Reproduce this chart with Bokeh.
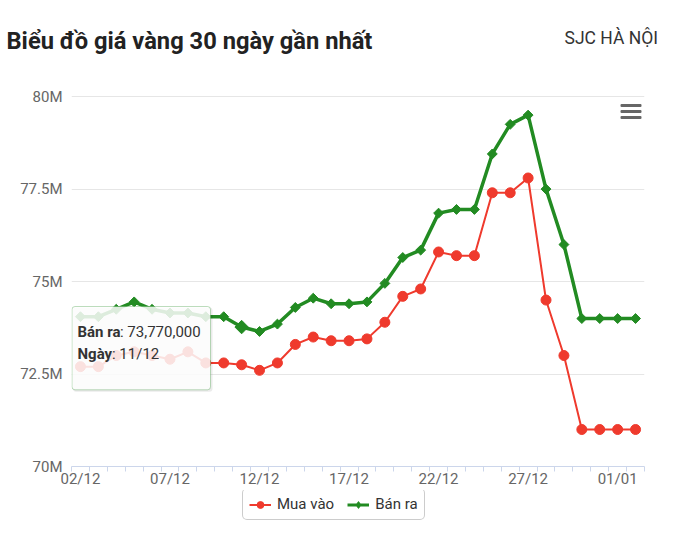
import math
from bokeh.plotting import figure
from bokeh.layouts import column
from bokeh.models import (FixedTicker, Label, BoxAnnotation, Legend, LegendItem, Range1d)
from bokeh.embed import file_html
from bokeh.resources import INLINE

# ---------------- data ----------------
dates = ["02/12", "03/12", "04/12", "05/12", "06/12", "07/12", "08/12", "09/12",
         "10/12", "11/12", "12/12", "13/12", "14/12", "15/12", "16/12", "17/12",
         "18/12", "19/12", "20/12", "21/12", "22/12", "23/12", "24/12", "25/12",
         "26/12", "27/12", "28/12", "29/12", "30/12", "31/12", "01/01", "02/01"]

mua_vao = [72_700_000, 72_700_000, 73_000_000, 73_100_000, 73_000_000, 72_900_000,
           73_100_000, 72_800_000, 72_800_000, 72_750_000, 72_600_000, 72_800_000,
           73_300_000, 73_500_000, 73_400_000, 73_400_000, 73_450_000, 73_900_000,
           74_600_000, 74_800_000, 75_800_000, 75_700_000, 75_700_000, 77_400_000,
           77_400_000, 77_800_000, 74_500_000, 73_000_000, 71_000_000, 71_000_000,
           71_000_000, 71_000_000]

ban_ra = [74_050_000, 74_050_000, 74_250_000, 74_450_000, 74_250_000, 74_150_000,
          74_150_000, 74_050_000, 74_050_000, 73_770_000, 73_650_000, 73_850_000,
          74_300_000, 74_550_000, 74_400_000, 74_400_000, 74_450_000, 74_950_000,
          75_650_000, 75_850_000, 76_850_000, 76_950_000, 76_950_000, 78_450_000,
          79_250_000, 79_500_000, 77_500_000, 76_000_000, 74_000_000, 74_000_000,
          74_000_000, 74_000_000]

y_ticks = [70_000_000, 72_500_000, 75_000_000, 77_500_000, 80_000_000]
y_tick_labels = ["70M", "72.5M", "75M", "77.5M", "80M"]
x_label_step = 5
series_names = ["Mua vào", "Bán ra"]
title_text = "Biểu đồ giá vàng 30 ngày gần nhất"
right_text = "SJC HÀ NỘI"
tooltip_date = "11/12"

RED = "#ef3a2d"
GREEN = "#228b22"
FONT = "Roboto"
FS = "15px"

W = 661
TOP_H, LEG_H = 60, 31
MAIN_H = 521 - TOP_H - LEG_H
F_L, F_T, F_R, F_B = 71, 95, 644, 466   # plot frame in page pixels
Y_PAD = 30_000                          # headroom so the top grid line is drawn

n = len(dates)
xs = list(range(n))


def bare_fig(h):
    f = figure(width=W, height=h, output_backend="svg", toolbar_location=None,
               x_range=Range1d(0, W), y_range=Range1d(0, h),
               x_axis_location=None, y_axis_location=None, min_border=0)
    f.outline_line_color = None
    f.grid.visible = False
    f.background_fill_color = "white"
    f.border_fill_color = "white"
    try:
        f.frame_align = False
    except Exception:
        pass
    return f


# ---------------- header ----------------
top = bare_fig(TOP_H)
top.add_layout(Label(x=6, y=TOP_H - 40.5, text=title_text, text_font=FONT,
                     text_font_style="bold", text_font_size="23.7px",
                     text_color="#222222", text_baseline="alphabetic"))
top.add_layout(Label(x=657.5, y=TOP_H - 37.3, text=right_text, text_font=FONT,
                     text_font_size="17.5px", text_color="#333333",
                     text_baseline="alphabetic", text_align="right"))

# ---------------- main chart ----------------
p = figure(width=W, height=MAIN_H, output_backend="svg", toolbar_location=None,
           x_range=Range1d(-0.5, n - 0.5),
           y_range=Range1d(y_ticks[0], y_ticks[-1] + Y_PAD),
           min_border_left=F_L, min_border_right=W - F_R, min_border_top=F_T - TOP_H,
           min_border_bottom=TOP_H + MAIN_H - F_B)
p.outline_line_color = None
p.background_fill_color = "white"
p.border_fill_color = "white"

p.xgrid.grid_line_color = None
p.ygrid.grid_line_color = "#e6e6e6"
p.ygrid.grid_line_width = 1

p.yaxis.ticker = FixedTicker(ticks=y_ticks, minor_ticks=[])
p.yaxis.major_label_overrides = {t: l for t, l in zip(y_ticks, y_tick_labels)}
p.yaxis.axis_line_color = None
p.yaxis.major_tick_line_color = None
p.yaxis.minor_tick_line_color = None
p.yaxis.major_tick_out = 0
p.yaxis.major_tick_in = 0
p.yaxis.major_label_standoff = 9
p.yaxis.major_label_text_font = FONT
p.yaxis.major_label_text_font_size = FS
p.yaxis.major_label_text_color = "#666666"

major_x = list(range(0, n, x_label_step))
p.xaxis.ticker = FixedTicker(ticks=major_x, minor_ticks=[i - 0.5 for i in range(n + 1)])
p.xaxis.major_label_overrides = {i: dates[i] for i in major_x}
p.xaxis.axis_line_color = "#ccd6eb"
p.xaxis.major_tick_line_color = None
p.xaxis.major_tick_out = 0
p.xaxis.major_tick_in = 0
p.xaxis.minor_tick_line_color = "#ccd6eb"
p.xaxis.minor_tick_out = 5
p.xaxis.minor_tick_in = 0
p.xaxis.major_label_standoff = -2
p.xaxis.major_label_text_font = FONT
p.xaxis.major_label_text_font_size = FS
p.xaxis.major_label_text_color = "#666666"

p.line(xs, mua_vao, line_color=RED, line_width=2, line_join="round")
p.scatter(xs, mua_vao, marker="circle", size=10, fill_color=RED, line_color=RED)
p.line(xs, ban_ra, line_color=GREEN, line_width=3.5, line_join="round")
p.scatter(xs, ban_ra, marker="square", angle=math.pi / 4, size=7,
          fill_color=GREEN, line_color=GREEN)

hi = dates.index(tooltip_date)
p.scatter([xs[hi]], [ban_ra[hi]], marker="square", angle=math.pi / 4, size=9.5,
          fill_color=GREEN, line_color=GREEN)


def sx(px):
    return px - F_L


def sy(py):
    return F_B - py


def screen_box(l, r, t, b, **kw):
    return BoxAnnotation(left=sx(l), right=sx(r), top=sy(t), bottom=sy(b),
                         left_units="screen", right_units="screen",
                         top_units="screen", bottom_units="screen", **kw)


# hamburger menu icon
for cy in (105, 111, 117):
    p.add_layout(screen_box(620, 641, cy - 1.5, cy + 1.5, fill_color="#666666",
                            fill_alpha=1, line_color=None, border_radius=1))

# tooltip
tl, tr, tt, tb = 71.5, 210, 306, 389.3
p.add_layout(screen_box(tl + 1, tr + 2, tt + 1, tb + 2, fill_color="black",
                        fill_alpha=0.08, line_color=None, border_radius=3))
p.add_layout(screen_box(tl, tr, tt, tb, fill_color="white", fill_alpha=0.85,
                        line_color=GREEN, line_width=1, border_radius=3))

tx = 77
val_str = f"{ban_ra[hi]:,}"
for txt, x, y, style in [(series_names[1], tx, 331.7, "bold"),
                         (": " + val_str, tx + 42.5, 331.7, "normal"),
                         ("Ngày", tx, 353.3, "bold"),
                         (": " + tooltip_date, tx + 34.5, 353.3, "normal")]:
    p.add_layout(Label(x=sx(x), y=sy(y), x_units="screen", y_units="screen",
                       text=txt, text_font=FONT, text_font_style=style,
                       text_font_size=FS, text_color="#333333",
                       text_baseline="alphabetic"))

# ---------------- legend ----------------
leg = bare_fig(LEG_H)
off = [-100, -99]
lr = leg.line(off, off, line_color=RED, line_width=2)
lrm = leg.scatter(off, off, marker="circle", size=9, fill_color=RED, line_color=RED)
lg = leg.line(off, off, line_color=GREEN, line_width=3)
lgm = leg.scatter(off, off, marker="diamond", size=10, fill_color=GREEN, line_color=GREEN)
legend = Legend(items=[LegendItem(label=series_names[0], renderers=[lr, lrm]),
                       LegendItem(label=series_names[1], renderers=[lg, lgm])],
                orientation="horizontal", location=(242, 1),
                border_line_color="#999999", border_line_width=1,
                background_fill_color="white", background_fill_alpha=1,
                label_text_font=FONT, label_text_font_size=FS,
                label_text_color="#333333", padding=6, spacing=13,
                glyph_width=22, glyph_height=17, label_height=17, label_standoff=6,
                margin=0)
try:
    legend.border_radius = 5
except Exception:
    pass
leg.add_layout(legend, "center")

layout = column(top, p, leg, spacing=0)
open("out.html", "w").write(file_html(layout, INLINE))
